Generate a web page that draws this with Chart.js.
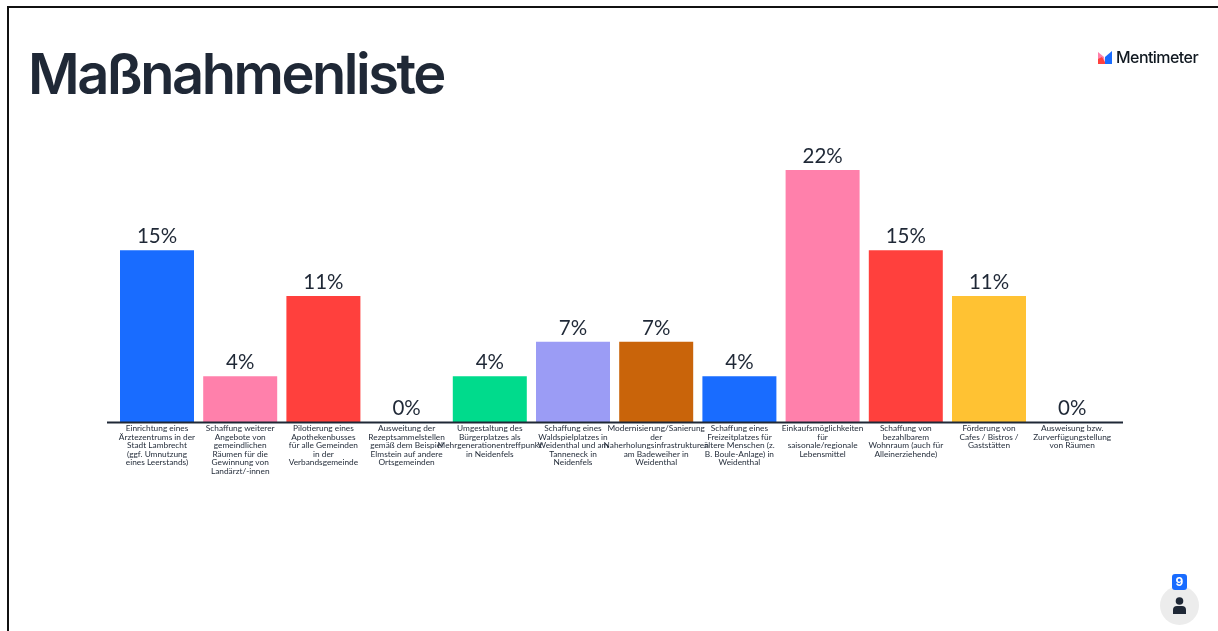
<!DOCTYPE html>
<html lang="de">
<head>
<meta charset="utf-8">
<title>Maßnahmenliste</title>
<script src="https://cdn.jsdelivr.net/npm/chart.js@4/dist/chart.umd.min.js"></script>
<style>
  html, body { margin: 0; padding: 0; background: #fff; overflow: hidden; }
  body { position: relative; width: 1218px; height: 631px; font-family: "Lato", sans-serif; color: #1f2836; }
  #frame { position: absolute; left: 7px; top: 6px; right: 0; bottom: 0; border-left: 2px solid #111; border-top: 2px solid #111; }
  #heading { position: absolute; left: 28px; top: 39px; margin: 0; font: 600 56px/70px "Inter", sans-serif; letter-spacing: -2.5px; white-space: nowrap; }
  #chart { position: absolute; left: 0; top: 0; }
  #brand { position: absolute; left: 1098px; top: 48px; height: 18px; display: flex; align-items: center; gap: 4px; font: 500 16px/18px "Inter", sans-serif; letter-spacing: -0.55px; color: #101820; }
  #avatar { position: absolute; left: 1160px; top: 586px; width: 39px; height: 39px; border-radius: 50%; background: #ececec; }
  #count { position: absolute; left: 1172px; top: 574px; width: 15px; height: 16px; border-radius: 3px; background: #196cff; color: #fff; font: 700 12px/16px "Inter", sans-serif; text-align: center; }
  #person { position: absolute; left: 1172px; top: 597px; }
</style>
</head>
<body>
<div id="frame"></div>
<h1 id="heading">Maßnahmenliste</h1>
<canvas id="chart" width="1218" height="631"></canvas>
<div id="brand">
  <svg width="14" height="13" viewBox="0 0 14 13">
    <path d="M0 1 L6 6 L7 13 L0 13 Z" fill="#ff80ab"/>
    <path d="M0 8 L4 6 L8 13 L0 13 Z" fill="#ff403d"/>
    <path d="M14 0 L14 13 L7 13 L7 6 Z" fill="#196cff"/>
  </svg>
  <span>Mentimeter</span>
</div>
<div id="avatar"></div>
<div id="count">9</div>
<svg id="person" width="15" height="17" viewBox="0 0 15 17">
  <circle cx="7.5" cy="4" r="3.8" fill="#1f2836"/>
  <path d="M1 17 L1 13 Q1 9 5 9 L10 9 Q14 9 14 13 L14 17 Z" fill="#1f2836"/>
</svg>
<script>
// Multi-line category captions, broken the way they appear under each bar
const categories = [
  ["Einrichtung eines", "Ärztezentrums in der", "Stadt Lambrecht", "(ggf. Umnutzung", "eines Leerstands)"],
  ["Schaffung weiterer", "Angebote von", "gemeindlichen", "Räumen für die", "Gewinnung von", "Landärzt/-innen"],
  ["Pilotierung eines", "Apothekenbusses", "für alle Gemeinden", "in der", "Verbandsgemeinde"],
  ["Ausweitung der", "Rezeptsammelstellen", "gemäß dem Beispiel", "Elmstein auf andere", "Ortsgemeinden"],
  ["Umgestaltung des", "Bürgerplatzes als", "Mehrgenerationentreffpunkt", "in Neidenfels"],
  ["Schaffung eines", "Waldspielplatzes in", "Weidenthal und am", "Tanneneck in", "Neidenfels"],
  ["Modernisierung/Sanierung", "der", "Naherholungsinfrastrukturen", "am Badeweiher in", "Weidenthal"],
  ["Schaffung eines", "Freizeitplatzes für", "ältere Menschen (z.", "B. Boule-Anlage) in", "Weidenthal"],
  ["Einkaufsmöglichkeiten", "für", "saisonale/regionale", "Lebensmittel"],
  ["Schaffung von", "bezahlbarem", "Wohnraum (auch für", "Alleinerziehende)"],
  ["Förderung von", "Cafes / Bistros /", "Gaststätten"],
  ["Ausweisung bzw.", "Zurverfügungstellung", "von Räumen"]
];
const percentages = [15, 4, 11, 0, 4, 7, 7, 4, 22, 15, 11, 0];
const barColors = [
  "#196cff", "#ff80ab", "#ff403d", "#ff80ab", "#00db8c", "#9b9cf5",
  "#c9640a", "#196cff", "#ff80ab", "#ff403d", "#ffc233", "#196cff"
];

const INK = "#1f2836";

// Percentage printed above each bar
const valueLabels = {
  id: "valueLabels",
  afterDatasetsDraw(chart) {
    const { ctx } = chart;
    const bars = chart.getDatasetMeta(0).data;
    ctx.save();
    ctx.font = '400 20.5px "Lato", sans-serif';
    ctx.fillStyle = INK;
    ctx.textAlign = "center";
    ctx.textBaseline = "alphabetic";
    bars.forEach((bar, i) => {
      ctx.fillText(percentages[i] + "%", bar.x, bar.y - 7);
    });
    ctx.restore();
  }
};

// Baseline that runs slightly past the outer categories
const baseline = {
  id: "baseline",
  afterDatasetsDraw(chart) {
    const { ctx, chartArea } = chart;
    ctx.save();
    ctx.strokeStyle = INK;
    ctx.lineWidth = 2;
    ctx.beginPath();
    ctx.moveTo(chartArea.left - 8.4, chartArea.bottom + 0.5);
    ctx.lineTo(chartArea.right + 9.2, chartArea.bottom + 0.5);
    ctx.stroke();
    ctx.restore();
  }
};

new Chart(document.getElementById("chart"), {
  type: "bar",
  data: {
    labels: categories,
    datasets: [{
      data: percentages,
      backgroundColor: barColors,
      borderWidth: 0,
      barPercentage: 1,
      categoryPercentage: 74 / 83.2
    }]
  },
  options: {
    responsive: false,
    animation: false,
    layout: { padding: { left: 115.4, right: 104.2, top: 135.6, bottom: 149 } },
    plugins: { legend: { display: false }, tooltip: { enabled: false }, title: { display: false } },
    scales: {
      y: { display: false, min: 0, max: 25 },
      x: {
        afterFit(scale) { scale.height = 60; },
        grid: { display: false, drawTicks: false },
        border: { display: false },
        ticks: {
          autoSkip: false,
          maxRotation: 0,
          minRotation: 0,
          padding: 2,
          color: INK,
          font: { family: '"Lato", sans-serif', size: 8.3, lineHeight: 1.03 }
        }
      }
    }
  },
  plugins: [valueLabels, baseline]
});
</script>
</body>
</html>
